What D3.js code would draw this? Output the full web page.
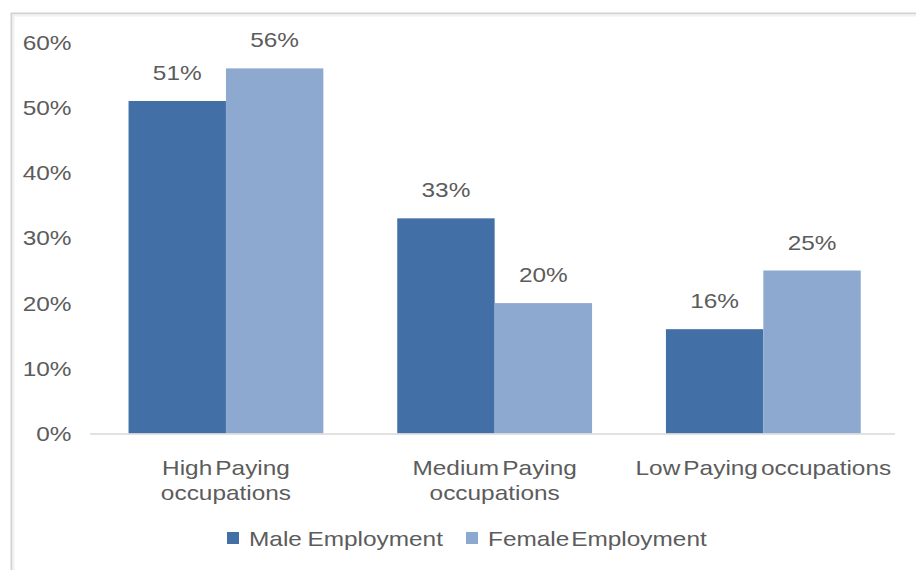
<!DOCTYPE html>
<html>
<head>
<meta charset="utf-8">
<script src="https://cdn.jsdelivr.net/npm/d3@7"></script>
<style>
  html, body { margin: 0; padding: 0; background: #fff; }
  svg { display: block; }
  text { font-family: "Liberation Sans", Arial, sans-serif; fill: #5c5c5c; }
</style>
</head>
<body>
<svg id="chart" width="916" height="570"></svg>
<script>
// Employment share by occupation pay level
const categories = ["High Paying occupations", "Medium Paying occupations", "Low Paying occupations"];
const categoryLines = [["High Paying", "occupations"], ["Medium Paying", "occupations"], ["Low Paying occupations"]];
const seriesNames = ["Male Employment", "Female Employment"];
const maleValues = [0.51, 0.33, 0.16];
const femaleValues = [0.56, 0.20, 0.25];
const yTickValues = [0, 0.1, 0.2, 0.3, 0.4, 0.5, 0.6];

const colors = ["#4270a6", "#8da9cf"];
const fontSize = 20;
const stretch = 1.22;   // wide text face

const svg = d3.select("#chart");
const W = 916, H = 570;

// frame: top and left rule
svg.append("path")
  .attr("d", `M11.5,${H} V13.5 H${W}`)
  .attr("fill", "none")
  .attr("stroke", "#d2d2d2")
  .attr("stroke-width", 2);
svg.append("path")
  .attr("d", `M13.5,${H} V15.5 H${W}`)
  .attr("fill", "none")
  .attr("stroke", "#f1f1f1")
  .attr("stroke-width", 2);

const x0 = d3.scaleBand()
  .domain(categories)
  .range([91.6, 897.7])
  .paddingInner(0.275)
  .paddingOuter(0.1375);

const x1 = d3.scaleBand()
  .domain(seriesNames)
  .range([0, x0.bandwidth()]);

const y = d3.scaleLinear()
  .domain([0, 0.6])
  .range([433.5, 42.3]);

// stretched text helper: places text at (x, y) with a horizontal scale
function wide(sel, x, yPos) {
  return sel
    .attr("x", 0).attr("y", 0)
    .attr("transform", `translate(${x},${yPos}) scale(${stretch},1)`);
}

// y axis (labels only)
const yAxis = svg.append("g")
  .attr("transform", "translate(90,0)")
  .call(d3.axisLeft(y).tickValues(yTickValues).tickFormat(d3.format(".0%")).tickSize(0));
yAxis.select(".domain").remove();
yAxis.selectAll(".tick text")
  .attr("font-size", fontSize)
  .attr("font-family", null)
  .attr("dy", "0.35em")
  .attr("x", 0)
  .attr("transform", `translate(-18.5,0) scale(${stretch},1)`)
  .style("fill", "#5c5c5c");

// bars
const rows = categories.map((c, i) => ({ cat: c, vals: [maleValues[i], femaleValues[i]] }));
const groups = svg.append("g").selectAll("g")
  .data(rows).join("g")
  .attr("transform", d => `translate(${x0(d.cat)},0)`);

groups.selectAll("rect")
  .data(d => d.vals.map((v, j) => ({ s: seriesNames[j], v, j })))
  .join("rect")
  .attr("x", d => x1(d.s))
  .attr("y", d => y(d.v))
  .attr("width", x1.bandwidth())
  .attr("height", d => y(0) - y(d.v))
  .attr("fill", d => colors[d.j]);

// value labels
groups.selectAll("text.val")
  .data(d => d.vals.map((v, j) => ({ s: seriesNames[j], v, j })))
  .join("text")
  .attr("class", "val")
  .attr("font-size", fontSize)
  .attr("text-anchor", "middle")
  .text(d => d3.format(".0%")(d.v))
  .each(function (d) {
    wide(d3.select(this), x1(d.s) + x1.bandwidth() / 2, y(d.v) - 21);
  });

// x axis baseline
svg.append("line")
  .attr("x1", 90).attr("x2", 895)
  .attr("y1", y(0) + 0.5).attr("y2", y(0) + 0.5)
  .attr("stroke", "#d9d9d9")
  .attr("stroke-width", 1.5);

// category labels
const catG = svg.append("g");
categories.forEach((c, i) => {
  const cx = x0(c) + x0.bandwidth() / 2;
  categoryLines[i].forEach((line, k) => {
    catG.append("text")
      .attr("font-size", fontSize)
      .attr("text-anchor", "middle")
      .attr("word-spacing", -3)
      .text(line)
      .call(s => wide(s, cx, 475 + k * 25));
  });
});

// legend
const legendX = [227, 466];
const legend = svg.append("g");
seriesNames.forEach((name, j) => {
  legend.append("rect")
    .attr("x", legendX[j]).attr("y", 532)
    .attr("width", 12).attr("height", 12)
    .attr("fill", colors[j]);
  legend.append("text")
    .attr("font-size", fontSize)
    .attr("word-spacing", j === 1 ? -4 : -1)
    .text(name)
    .call(s => wide(s, legendX[j] + 22, 546));
});
</script>
</body>
</html>
